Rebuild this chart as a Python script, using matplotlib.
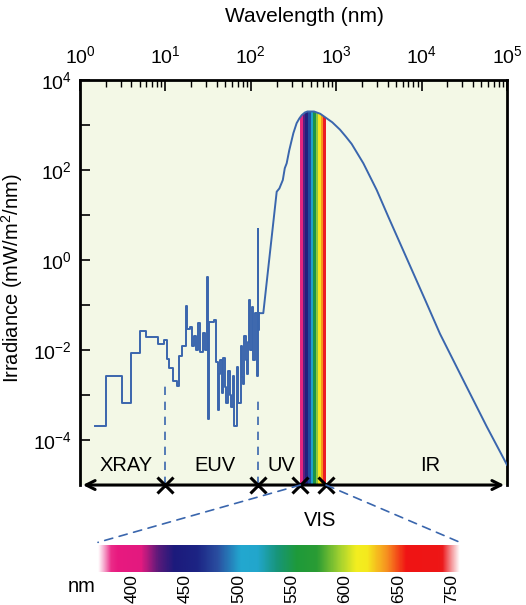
import numpy as np
import matplotlib
matplotlib.use('Agg')
import matplotlib.pyplot as plt
from matplotlib.colors import LinearSegmentedColormap
from matplotlib.patches import Polygon, ConnectionPatch

plt.rcParams['font.family'] = ['Liberation Sans', 'DejaVu Sans']
plt.rcParams['mathtext.fontset'] = 'custom'
plt.rcParams['mathtext.rm'] = 'Liberation Sans'
plt.rcParams['mathtext.it'] = 'Liberation Sans:italic'
plt.rcParams['mathtext.bf'] = 'Liberation Sans:bold'

# Espectro corto (rayos X / EUV), en escalones
euv_wl = [1.5, 2.0, 3.1, 4.0, 5.0, 6.0, 8.3, 9.5, 10.4, 11.1, 12.2, 13.8, 14.6,
          15.6, 17.3, 18.1, 19.4, 20.3, 21.6, 22.8, 23.9, 25.4, 27.3, 29.1,
          30.4, 31.4, 32.4, 37.0, 38.8, 41.0, 42.3, 43.6, 45.6, 47.7, 49.5,
          51.3, 54.6, 56.3, 58.2, 61.4, 62.8, 64.2, 68.4, 70.0, 71.6, 76.2,
          78.3, 80.4, 84.1, 86.8, 89.6, 92.0, 94.6, 98.0, 102.5, 105.0, 107.0,
          112.0, 117.0, 120.5, 122.5, 126.0]
euv_irr = [2.1e-4, 2.7e-3, 6.5e-4, 8.5e-3, 2.6e-2, 1.9e-2, 1.35e-2, 1.7e-2,
           6.2e-3, 3.9e-3, 2.0e-3, 1.6e-3, 7.4e-3, 1.2e-2, 9.5e-2, 2.9e-2,
           3.2e-2, 1.2e-2, 2.0e-2, 1.0e-2, 4.0e-2, 9.1e-3, 2.4e-2, 1.0e-2,
           0.43, 3.0e-4, 4.3e-2, 4.6e-2, 5.5e-3, 4.7e-4, 3.0e-3, 6.0e-3,
           1.1e-3, 6.5e-3, 1.5e-3, 6.5e-4, 3.5e-3, 1.0e-3, 5.5e-4, 2.6e-3,
           8.0e-4, 2.1e-4, 4.3e-3, 1.2e-3, 6.5e-4, 1.2e-2, 2.5e-3, 1.8e-3,
           2.1e-2, 6.0e-3, 3.0e-3, 1.5e-2, 0.13, 1.0e-2, 9.1e-2, 1.5e-2,
           6.0e-3, 6.5e-2, 2.6e-3, 5.0, 2.8e-2, 6.6e-2]

# Espectro UV - IR
uv_wl = [126, 140, 201, 216, 237, 250, 263, 282, 300, 315, 344, 370, 395, 430,
         460, 550, 650, 773, 900, 1107, 1300, 1517, 2080, 2980, 4080, 11000,
         16400, 32200, 57800, 100000]
uv_irr = [6.6e-2, 6.6e-2, 33, 39, 60, 110, 141, 275, 450, 660, 1100, 1400,
          1660, 1900, 2000, 2000, 1780, 1410, 1150, 790, 550, 380, 141, 36,
          9.1, 0.13, 2.3e-2, 1.8e-3, 2.0e-4, 2.8e-5]

# Regiones del espectro
region_edges = [10, 120, 380, 760]
region_names = ['XRAY', 'EUV', 'UV', 'IR']
region_x = [3.5, 38, 230, 12500]
dash_tops = [2.0e-3, 9.0e-4]

# Franjas del visible
vis_colors = ['#e5267e', '#5b1f7e', '#23217d', '#1f4e9c', '#1fa0cc',
              '#1c9446', '#8cc63f', '#f4e61e', '#f7941d', '#ed1c24']

# Barra de colores (nm)
bar_nm = [368, 386, 408, 424, 439, 461, 480, 502, 518, 536, 555, 574, 595,
          611, 621, 640, 658, 689, 708]
bar_colors = ['#ee4d98', '#e8197f', '#e31a80', '#5a1a7a', '#1c1a7c',
              '#1c2484', '#2a4ea0', '#22a8d0', '#22a6cc', '#17957a', '#1e9a3a',
              '#2a9c34', '#a0d030', '#f3ee20', '#f5ea1e', '#f79020', '#f01414',
              '#ee1616', '#e8303a']
bar_ticks = [400, 450, 500, 550, 600, 650, 700]
bar_labels = ['400', '450', '500', '550', '600', '650', '750']

y_ticks = [1e-4, 1e-3, 1e-2, 1e-1, 1e0, 1e1, 1e2, 1e3, 1e4]
y_labels = ['$10^{-4}$', '', '$10^{-2}$', '', '$10^{0}$', '', '$10^{2}$', '', '$10^{4}$']

line_col = '#3a66ad'

fig = plt.figure(figsize=(5.26, 6.05), dpi=100)
ax = fig.add_axes([0.1521, 0.1983, 0.8118, 0.6694])
ax.set_facecolor('#f3f8e6')
ax.set_xscale('log')
ax.set_yscale('log')
ax.set_xlim(1, 1e5)
ax.set_ylim(1e-5, 1e4)

# franjas de colores bajo la curva
edges = np.geomspace(region_edges[2], region_edges[3], len(vis_colors) + 1)
curve = Polygon(list(zip(uv_wl, uv_irr)) + [(1e5, 1e-5), (126, 1e-5)],
                closed=True, transform=ax.transData)
for i, c in enumerate(vis_colors):
    f = ax.fill_between([edges[i], edges[i + 1]], 1e-5, 1e4, color=c, lw=0, zorder=2)
    f.set_clip_path(curve)

ax.step(euv_wl, euv_irr, where='post', color=line_col, lw=1.4, zorder=3)
ax.plot(uv_wl, uv_irr, color=line_col, lw=1.4, zorder=3)

for xe, yt in zip(region_edges[:2], dash_tops):
    ax.plot([xe, xe], [1e-5, yt], ls=(0, (5, 4)), color=line_col, lw=1.2, zorder=2)

for name, xp in zip(region_names, region_x):
    ax.text(xp, 2.7e-5, name, ha='center', va='center', fontsize=14.5)

# eje inferior con flechas y marcas X
ax.annotate('', xy=(1e5, 1e-5), xytext=(1, 1e-5), xycoords='data',
            arrowprops=dict(arrowstyle='<->', lw=2.2, color='k', mutation_scale=16),
            annotation_clip=False, zorder=5)
ax.plot(region_edges, [1e-5] * len(region_edges), ls='none', marker='x',
        ms=11, mew=2.2, color='k', clip_on=False, zorder=6)

for s in ['left', 'right', 'top']:
    ax.spines[s].set_linewidth(2)
ax.spines['bottom'].set_visible(False)

ax.xaxis.tick_top()
ax.xaxis.set_label_position('top')
ax.tick_params(axis='x', which='major', direction='in', length=8, width=1.2,
               labelsize=14, pad=9, bottom=False)
ax.tick_params(axis='x', which='minor', direction='in', length=5, width=1,
               bottom=False)
ax.set_xlabel('Wavelength (nm)', fontsize=15, labelpad=12)
ax.xaxis.set_label_coords(0.525, 1.143)

ax.set_yticks(y_ticks)
ax.set_yticklabels(y_labels)
ax.yaxis.set_minor_locator(plt.NullLocator())
ax.tick_params(axis='y', direction='in', length=7, width=1.2, labelsize=14,
               pad=6, right=False)
ax.set_ylabel('Irradiance (mW/m$^2$/nm)', fontsize=14.5)
ax.yaxis.set_label_coords(-0.129, 0.51)

# barra del visible
cax = fig.add_axes([0.1863, 0.0545, 0.6882, 0.0446])
xs = np.linspace(bar_nm[0], bar_nm[-1], 800)
cmap = LinearSegmentedColormap.from_list(
    'vis', list(zip((np.array(bar_nm) - bar_nm[0]) / (bar_nm[-1] - bar_nm[0]), bar_colors)))
rgba = cmap((xs - bar_nm[0]) / (bar_nm[-1] - bar_nm[0]))
rgba[:, 3] = np.clip((xs - bar_nm[0]) / 12, 0, 1) * np.clip((bar_nm[-1] - xs) / 16, 0, 1)
cax.imshow(rgba[None, :, :], extent=[bar_nm[0], bar_nm[-1], 0, 1], aspect='auto')
cax.set_xlim(bar_nm[0], bar_nm[-1])
for s in cax.spines.values():
    s.set_visible(False)
cax.set_yticks([])
cax.set_xticks(bar_ticks)
cax.set_xticklabels(bar_labels, rotation=90, va='top')
cax.tick_params(axis='x', length=0, labelsize=12.5, pad=1.5)
fig.text(82 / 526, 1 - 586 / 605, 'nm', ha='center', va='center', fontsize=14.5)
fig.text(320 / 526, 1 - 520 / 605, 'VIS', ha='center', va='center', fontsize=14.5)

for xa, xb in [(region_edges[2], 0.0), (region_edges[3], 1.0)]:
    con = ConnectionPatch(xyA=(xa, 1e-5), coordsA=ax.transData,
                          xyB=(xb, 1.1), coordsB=cax.transAxes,
                          ls=(0, (5, 4)), color=line_col, lw=1.2)
    fig.add_artist(con)

fig.savefig('out.png', dpi=100)
